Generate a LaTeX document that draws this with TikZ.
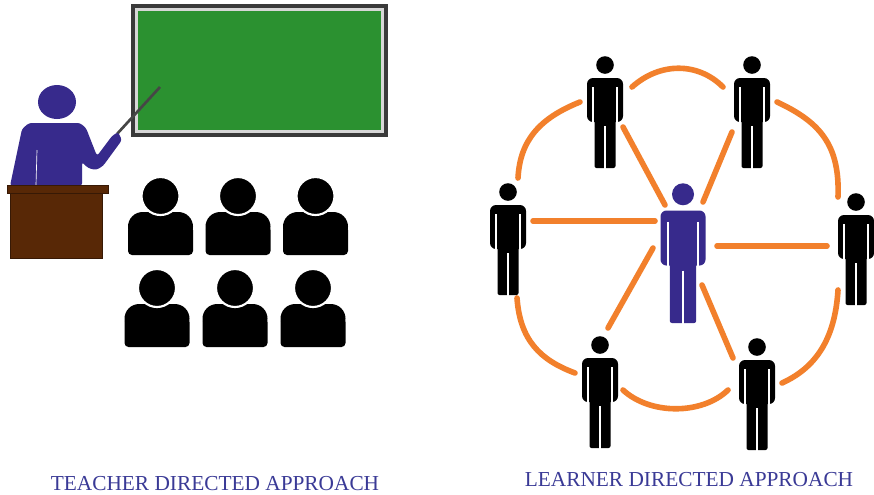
\documentclass[tikz,border=0pt]{standalone}
\usepackage{fontspec}
\setmainfont{Liberation Serif}
\definecolor{boardgreen}{RGB}{43,145,48}
\definecolor{boardframe}{RGB}{58,58,58}
\definecolor{boardrim}{RGB}{215,215,215}
\definecolor{teacherblue}{RGB}{55,42,140}
\definecolor{podiumbrown}{RGB}{88,40,6}
\definecolor{podiumedge}{RGB}{55,25,5}
\definecolor{linkorange}{RGB}{242,128,44}
\definecolor{labelblue}{RGB}{58,58,150}
\tikzset{
  link/.style={draw=linkorange, line width=4.2pt, line cap=round},
  figbox/.style={inner sep=0pt, minimum width=27pt, minimum height=84pt},
  labeltext/.style={inner sep=0pt, text=labelblue, font=\fontsize{16}{18}\selectfont},
  % standing person, centred on its own mid-height
  pics/figure/.style={code={
    \fill[#1] (0,-47) circle[radius=8.8];
    \fill[#1, rounded corners=4.5pt] (-18,10) -- (-18,-34) -- (18,-34) -- (18,10) -- cycle;
    \fill[#1, rounded corners=1.5pt] (-10.5,0) -- (-10.5,56) -- (10.5,56) -- (10.5,0) -- cycle;
    \draw[white, line width=1pt] (-12,-25) -- (-12,11) (12,-25) -- (12,11);
    \draw[white, line width=1.3pt] (0,14) -- (0,57);
  }},
  % seated student bust, centred on the head
  pics/bust/.style={code={
    \fill[black, rounded corners=11pt] (-32.5,45) -- (-32.5,16) -- (32.5,16) -- (32.5,45) -- cycle;
    \fill[black, rounded corners=3pt] (-32.5,30) -- (-32.5,59) -- (32.5,59) -- (32.5,30) -- cycle;
    \filldraw[fill=black, draw=white, line width=1.6pt] (0,0) circle[radius=19];
  }}
}
\begin{document}
\begin{tikzpicture}[x=0.75pt, y=-0.75pt]
\fill[white] (0,0) rectangle (874,494);
\useasboundingbox (0,0) rectangle (874,494);

% blackboard
\fill[boardframe] (131,4) rectangle (388,137);
\fill[boardrim] (135,8) rectangle (384,133);
\fill[boardgreen] (138,11) rectangle (381,130);

% pointer
\draw[gray!55!black, line width=2pt] (117,134) -- (160,87);

% teacher
\fill[teacherblue] (57,102) ellipse[x radius=19, y radius=17];
\fill[teacherblue, rounded corners=2pt]
  (10,186) -- (22,129) -- (29,123) -- (80,123) -- (86,128) -- (97,156)
  -- (112,136) -- (118,132) -- (122,140) -- (103,166) -- (96,170)
  -- (88,168) -- (82,162) -- (82,186) -- cycle;
\draw[white, line width=0.5pt] (37,150) -- (36,185);

% podium
\filldraw[fill=podiumbrown, draw=podiumedge, line width=0.6pt] (10,193) rectangle (102,258);
\filldraw[fill=podiumbrown, draw=podiumedge, line width=0.6pt] (7,185) rectangle (108,193);

% students
\pic at (160.5,196) {bust};
\pic at (238,196) {bust};
\pic at (315.5,196) {bust};
\pic at (157,288) {bust};
\pic at (235,288) {bust};
\pic at (313,288) {bust};

% learner network
\node[figbox] (tl) at (605,112) {};
\node[figbox] (tr) at (752,112) {};
\node[figbox] (l)  at (508,239) {};
\node[figbox] (r)  at (856,249) {};
\node[figbox] (bl) at (600,392) {};
\node[figbox] (br) at (757,394) {};
\node[figbox, minimum width=34pt, minimum height=105pt] (c) at (683,253) {};

% spokes
\draw[link] ([shift={(-18,-48)}]c.center) -- ([shift={(18,15)}]tl.center);
\draw[link] ([shift={(20,-51)}]c.center) -- ([shift={(-20,20)}]tr.center);
\draw[link] ([shift={(-28,-32)}]c.center) -- ([shift={(25,-18)}]l.center);
\draw[link] ([shift={(34,-7)}]c.center) -- ([shift={(-29,-3)}]r.center);
\draw[link] ([shift={(-30,-5)}]c.center) -- ([shift={(8,-64)}]bl.center);
\draw[link] ([shift={(19,32)}]c.center) -- ([shift={(-24,-36)}]br.center);

% outer ring
\draw[link] ([shift={(27,-25)}]tl.center) .. controls +(28,-25) and +(-25,-25) .. ([shift={(-29,-25)}]tr.center);
\draw[link] ([shift={(-25,-10)}]tl.center) .. controls +(-40,16) and +(2,-38) .. ([shift={(10,-61)}]l.center);
\draw[link] ([shift={(25,-10)}]tr.center) .. controls +(43,20) and +(2,-52) .. ([shift={(-18,-52)}]r.center);
\draw[link] ([shift={(9,59)}]l.center) .. controls +(3,42) and +(-35,-13) .. ([shift={(-25,-19)}]bl.center);
\draw[link] ([shift={(23,-2)}]bl.center) .. controls +(27,25) and +(-26,25) .. ([shift={(-29,-4)}]br.center);
\draw[link] ([shift={(25,-11)}]br.center) .. controls +(33,-15) and +(-3,50) .. ([shift={(-18,41)}]r.center);

% people
\pic at (tl) {figure=black};
\pic at (tr) {figure=black};
\pic at (l) {figure=black};
\pic at (r) {figure=black};
\pic at (bl) {figure=black};
\pic at (br) {figure=black};
\pic[scale=1.25] at (c) {figure=teacherblue};

% captions
\node[labeltext] (tda) at (215,483.5) {TEACHER DIRECTED APPROACH};
\node[labeltext] (lda) at (689,479.5) {LEARNER DIRECTED APPROACH};
\end{tikzpicture}
\end{document}
